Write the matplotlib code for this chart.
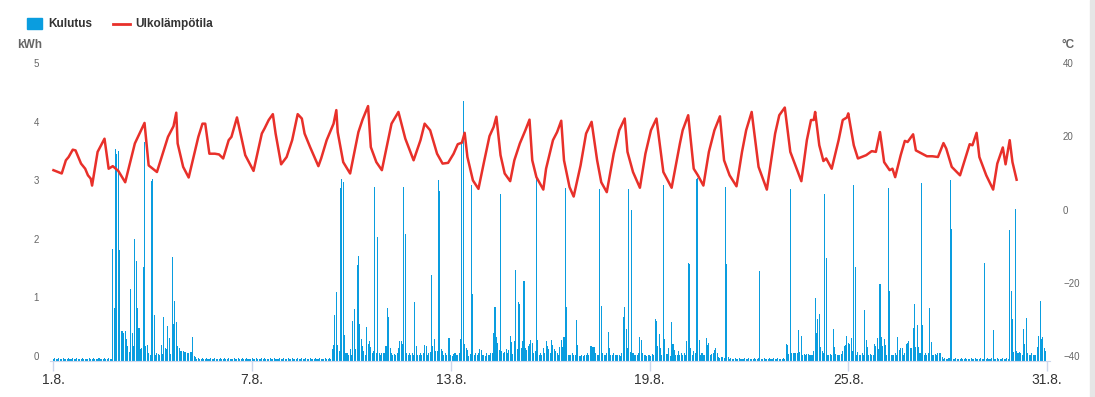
import matplotlib
matplotlib.use("Agg")
import matplotlib.pyplot as plt
from matplotlib.patches import Rectangle
from matplotlib.lines import Line2D
import numpy as np

plt.rcParams['font.family'] = ['Liberation Sans', 'DejaVu Sans']

# hourly consumption (kWh), one list per day, 1.8. - 30.8.
kulutus_paivittain = [
    [0.03, 0.05, 0.04, 0.03, 0.05, 0.03, 0.04, 0.05, 0.03, 0.04, 0.03, 0.05, 0.04, 0.03, 0.05, 0.04, 0.03, 0.05, 0.04, 0.03, 0.04, 0.05, 0.03, 0.04],
    [0.04, 0.03, 0.05, 0.04, 0.03, 0.05, 0.04, 0.03, 0.04, 0.05, 0.03, 0.04, 0.03, 0.05, 0.04, 0.03, 0.05, 0.04, 0.03, 1.91, 0.91, 3.61, 3.53, 3.58],
    [1.90, 0.51, 0.52, 0.48, 0.51, 0.37, 0.25, 0.15, 1.23, 0.48, 0.25, 2.08, 1.71, 0.91, 0.57, 0.20, 0.22, 1.60, 3.74, 0.26, 0.28, 0.14, 0.11, 3.07],
    [3.10, 0.79, 0.11, 0.14, 0.12, 0.11, 0.28, 0.12, 0.75, 0.23, 0.20, 0.60, 0.40, 0.12, 1.77, 0.63, 1.02, 0.66, 0.26, 0.23, 0.17, 0.17, 0.17, 0.15],
    [0.15, 0.14, 0.14, 0.16, 0.15, 0.41, 0.08, 0.06, 0.04, 0.05, 0.03, 0.04, 0.05, 0.03, 0.04, 0.05, 0.04, 0.03, 0.05, 0.04, 0.03, 0.05, 0.04, 0.03],
    [0.04, 0.05, 0.03, 0.04, 0.05, 0.04, 0.03, 0.05, 0.04, 0.03, 0.04, 0.05, 0.03, 0.04, 0.05, 0.03, 0.04, 0.05, 0.04, 0.03, 0.05, 0.04, 0.03, 0.04],
    [0.05, 0.03, 0.04, 0.05, 0.04, 0.03, 0.04, 0.05, 0.03, 0.05, 0.04, 0.03, 0.04, 0.05, 0.04, 0.03, 0.05, 0.04, 0.03, 0.04, 0.05, 0.03, 0.04, 0.05],
    [0.03, 0.04, 0.05, 0.04, 0.03, 0.05, 0.04, 0.03, 0.04, 0.05, 0.03, 0.04, 0.05, 0.04, 0.03, 0.05, 0.04, 0.03, 0.05, 0.04, 0.03, 0.04, 0.05, 0.04],
    [0.03, 0.05, 0.04, 0.03, 0.04, 0.05, 0.03, 0.04, 0.05, 0.04, 0.20, 0.27, 0.79, 1.18, 0.27, 0.17, 2.95, 3.11, 3.05, 0.45, 0.14, 0.14, 0.10, 0.20],
    [0.11, 0.68, 0.88, 0.20, 1.63, 1.80, 0.63, 0.37, 0.26, 0.17, 0.10, 0.58, 0.29, 0.34, 0.24, 0.14, 0.17, 2.97, 0.13, 2.12, 0.14, 0.11, 0.14, 0.14],
    [0.14, 0.26, 0.90, 0.75, 0.23, 0.14, 0.11, 0.12, 0.11, 0.14, 0.23, 0.34, 0.34, 0.29, 2.97, 2.17, 0.14, 0.11, 0.13, 0.11, 0.14, 0.11, 1.00, 0.26],
    [0.11, 0.10, 0.14, 0.11, 0.14, 0.27, 0.26, 0.11, 0.14, 0.16, 1.47, 0.26, 0.37, 0.17, 0.17, 3.09, 2.90, 0.20, 0.17, 0.11, 0.14, 0.11, 0.40, 0.39],
    [0.11, 0.09, 0.12, 0.14, 0.11, 0.11, 0.14, 0.37, 3.74, 4.43, 0.29, 0.23, 0.18, 0.09, 0.12, 3.00, 1.15, 0.11, 0.14, 0.11, 0.13, 0.20, 0.18, 0.11],
    [0.11, 0.09, 0.14, 0.11, 0.11, 0.14, 0.14, 0.47, 0.92, 0.41, 0.31, 0.18, 2.85, 0.17, 0.14, 0.16, 0.20, 0.14, 0.18, 0.43, 0.33, 0.12, 0.34, 1.55],
    [0.20, 1.00, 0.97, 0.23, 0.34, 1.37, 0.23, 0.18, 0.26, 0.29, 0.35, 0.31, 0.14, 0.17, 3.13, 0.35, 0.11, 0.14, 0.11, 0.23, 0.14, 0.34, 0.26, 0.20],
    [0.14, 0.35, 0.27, 0.20, 0.17, 0.14, 0.11, 0.24, 0.35, 0.24, 0.41, 2.96, 0.92, 0.11, 0.11, 0.11, 0.14, 0.10, 0.11, 0.70, 0.27, 0.09, 0.08, 0.11],
    [0.09, 0.11, 0.10, 0.14, 0.11, 0.26, 0.26, 0.24, 0.24, 0.14, 0.11, 0.11, 2.93, 0.94, 0.14, 0.11, 0.11, 0.14, 0.49, 0.23, 0.11, 0.11, 0.13, 0.11],
    [0.11, 0.11, 0.11, 0.09, 0.14, 0.75, 0.92, 0.54, 0.22, 2.94, 0.15, 2.57, 0.13, 0.11, 0.11, 0.11, 0.14, 0.41, 0.35, 0.14, 0.11, 0.11, 0.09, 0.11],
    [0.11, 0.09, 0.12, 0.11, 0.71, 0.69, 0.26, 0.46, 0.23, 0.11, 3.01, 0.37, 0.12, 0.12, 0.23, 0.09, 0.67, 0.29, 0.18, 0.11, 0.11, 0.17, 0.11, 0.14],
    [0.11, 0.14, 0.11, 0.34, 1.68, 1.66, 0.23, 0.11, 0.17, 0.14, 3.11, 3.13, 0.35, 0.11, 0.14, 0.11, 0.11, 0.40, 0.27, 0.31, 0.11, 0.12, 0.14, 0.18],
    [0.23, 0.14, 0.06, 0.05, 0.06, 0.06, 0.05, 2.97, 1.66, 0.06, 0.04, 0.05, 0.03, 0.04, 0.05, 0.04, 0.03, 0.05, 0.04, 0.03, 0.04, 0.05, 0.03, 0.04],
    [0.05, 0.04, 0.03, 0.04, 0.05, 0.03, 0.04, 0.05, 1.54, 0.04, 0.03, 0.05, 0.04, 0.03, 0.04, 0.05, 0.03, 0.04, 0.05, 0.04, 0.03, 0.05, 0.04, 0.03],
    [0.04, 0.05, 0.04, 0.29, 0.27, 0.12, 2.93, 0.14, 0.13, 0.13, 0.14, 0.13, 0.53, 0.16, 0.43, 0.11, 0.12, 0.11, 0.12, 0.12, 0.11, 0.11, 0.11, 0.17],
    [1.07, 0.47, 0.71, 0.81, 0.24, 0.17, 0.14, 2.85, 1.76, 0.11, 0.11, 0.12, 0.11, 0.54, 0.24, 0.12, 0.11, 0.10, 0.11, 0.12, 0.17, 0.26, 0.27, 0.43],
    [0.31, 0.29, 0.40, 0.17, 3.01, 1.61, 0.11, 0.16, 0.11, 0.11, 0.14, 0.11, 0.87, 0.35, 0.24, 0.11, 0.12, 0.11, 0.11, 0.29, 0.26, 0.40, 0.21, 1.31],
    [0.41, 0.26, 0.37, 0.27, 0.11, 2.96, 1.20, 0.11, 0.11, 0.11, 0.14, 0.11, 0.41, 0.18, 0.22, 0.23, 0.11, 0.14, 0.29, 0.31, 0.34, 0.23, 0.23, 0.56],
    [0.97, 0.24, 0.62, 0.24, 0.14, 3.04, 0.62, 0.11, 0.14, 0.11, 0.14, 0.91, 0.33, 0.11, 0.11, 0.12, 0.11, 0.14, 0.14, 0.14, 0.06, 0.04, 0.05, 0.03],
    [0.04, 0.05, 3.09, 2.25, 0.04, 0.03, 0.05, 0.04, 0.03, 0.04, 0.05, 0.03, 0.04, 0.05, 0.04, 0.03, 0.04, 0.05, 0.03, 0.04, 0.05, 0.04, 0.03, 0.04],
    [0.05, 0.04, 0.03, 1.67, 0.04, 0.05, 0.03, 0.04, 0.05, 0.53, 0.04, 0.03, 0.05, 0.04, 0.03, 0.04, 0.05, 0.04, 0.03, 0.05, 0.04, 2.23, 1.19, 0.71],
    [0.16, 2.59, 0.17, 0.14, 0.16, 0.14, 0.11, 0.54, 0.29, 0.73, 0.14, 0.11, 0.11, 0.14, 0.11, 0.11, 0.11, 0.24, 0.43, 1.03, 0.37, 0.41, 0.23, 0.17],
]

# outdoor temperature: hours from 1.8. 00:00 and degrees
lampo_tunnit = [
    0, 6, 9, 11, 14, 16, 18, 20, 23, 25, 27, 28, 32, 37, 40, 43, 47, 52, 59, 66, 69, 75, 83, 87, 89, 90, 94, 98,
    105, 108, 110, 113, 117, 120, 123, 127, 129, 133, 139, 145, 151, 153, 156, 159, 161, 165, 169, 173, 177, 180, 182, 186, 192, 194,
    198, 203, 205, 206, 210, 215, 221, 224, 228, 230, 234, 238, 241, 245, 250, 255, 261, 266, 269, 273, 278, 282, 286, 290,
    293, 296, 298, 300, 304, 308, 312, 316, 319, 321, 324, 327, 331, 334, 338, 342, 345, 347, 350, 355, 357, 362, 365, 368, 370, 374, 377, 382, 386, 390,
    394, 397, 401, 406, 410, 414, 416, 420, 425, 429, 433, 437, 442, 448, 454, 456, 460, 464, 467, 471, 475, 479, 483, 486,
    490, 495, 499, 502, 506, 511, 517, 523, 526, 530, 534, 542, 546, 549, 551, 552, 555, 558, 560, 564, 569, 572, 575, 576, 580, 583,
    589, 593, 596, 599, 602, 606, 608, 610, 614, 617, 619, 623, 625, 633, 637, 641, 645, 647, 651, 657, 660, 664, 666, 669, 671, 676, 681, 684, 688, 690, 693, 695, 698,
]
lampo = [
    12.1, 11.2, 14.8, 15.7, 17.7, 17.5, 15.7, 13.9, 12.5, 10.7, 9.8, 7.9, 17.1, 20.7, 12.5, 13.2, 11.9, 8.8, 19.4, 25.0, 13.4, 11.6, 21.2, 24.1, 27.8, 19.4, 13.0, 10.1,
    21.2, 24.8, 24.8, 16.6, 16.6, 16.4, 15.3, 20.3, 21.2, 26.5, 16.2, 11.9, 22.1, 23.5, 25.8, 27.4, 22.1, 13.7, 15.7, 20.3, 27.4, 26.2, 22.1, 18.4, 13.2, 15.3,
    20.3, 24.8, 28.5, 22.5, 14.3, 11.2, 22.5, 25.9, 29.6, 18.4, 14.3, 12.1, 17.5, 24.8, 28.0, 20.7, 14.8, 20.3, 24.8, 23.0, 16.6, 13.9, 14.1, 16.6,
    19.2, 19.6, 22.3, 15.7, 9.3, 7.0, 14.3, 21.4, 23.9, 26.7, 16.2, 11.2, 9.1, 14.8, 19.4, 23.0, 25.9, 14.8, 10.2, 6.8, 12.5, 20.3, 22.5, 25.6, 14.8, 7.5, 4.9, 13.4, 22.1, 25.3,
    14.8, 8.8, 6.1, 16.6, 23.0, 26.2, 17.1, 11.6, 7.3, 16.6, 23.0, 26.2, 11.6, 7.3, 19.4, 23.0, 27.1, 12.5, 10.7, 7.9, 17.1, 23.0, 26.8, 14.8,
    10.7, 7.7, 17.1, 23.0, 28.0, 13.0, 6.8, 22.1, 27.1, 29.2, 17.1, 9.1, 20.3, 25.8, 25.8, 28.0, 18.9, 14.6, 15.3, 12.5, 20.3, 25.8, 26.5, 27.6, 18.9, 15.3,
    16.2, 17.3, 17.1, 22.5, 14.3, 12.1, 12.5, 10.2, 16.2, 20.1, 19.8, 21.9, 17.5, 15.9, 15.9, 15.7, 19.5, 18.0, 13.0, 10.7, 14.3, 19.2, 18.9, 22.3, 15.7, 10.7, 6.8, 13.9, 18.3, 13.7, 20.3, 14.3, 9.5,
]

x_tikit = [0, 144, 288, 432, 576, 720]
x_nimet = ["1.8.", "7.8.", "13.8.", "19.8.", "25.8.", "31.8."]
kwh_tikit = [0, 1, 2, 3, 4, 5]
c_tikit = [-40, -20, 0, 20, 40]
c_nimet = ["\u221240", "\u221220", "0", "20", "40"]

sininen = '#0a9ddf'
punainen = '#e8302a'
harmaa = '#666666'

kulutus = [v for paiva in kulutus_paivittain for v in paiva]
tunnit = np.arange(len(kulutus))

W, H = 1095, 397
fig = plt.figure(figsize=(W / 100, H / 100), dpi=100)
ax = fig.add_axes([50 / W, (H - 361) / H, 1000 / W, (361 - 68) / H])

ax.bar(tunnit, kulutus, width=0.75, color=sininen, linewidth=0)
ax.set_xlim(-2.5, 722.2)
ax.set_ylim(0, 5)

ax2 = ax.twinx()
ax2.plot(lampo_tunnit, lampo, color=punainen, lw=1.8, solid_joinstyle='round')
ax2.set_ylim(-40, 40)

for a in (ax, ax2):
    for s in a.spines.values():
        s.set_visible(False)
    a.set_yticks([])
ax.spines['bottom'].set_visible(True)
ax.spines['bottom'].set_color('#ccd6eb')

ax.set_xticks(x_tikit)
ax.set_xticklabels(x_nimet, fontsize=10, color='#333333')
ax.tick_params(axis='x', length=7.5, width=1, color='#ccd6eb', pad=1.5)

# y tick labels sit a little above the tick positions
for v in kwh_tikit:
    ax.annotate(str(v), xy=(0, v), xycoords=('axes fraction', 'data'),
                xytext=(-11, 4), textcoords='offset pixels',
                ha='right', va='center', fontsize=7, color=harmaa)
for v, n in zip(c_tikit, c_nimet):
    ax2.annotate(n, xy=(1, v), xycoords=('axes fraction', 'data'),
                 xytext=(13, 4), textcoords='offset pixels',
                 ha='left', va='center', fontsize=7, color=harmaa)

fig.text(30 / W, 1 - 45 / H, 'kWh', ha='center', va='center',
         fontsize=8.5, fontweight='bold', color=harmaa)
fig.text(1068 / W, 1 - 45 / H, '\u00b0C', ha='center', va='center',
         fontsize=8.5, fontweight='bold', color=harmaa)

# legend
fig.patches.append(Rectangle((27 / W, 1 - 29 / H), 15 / W, 11 / H,
                             transform=fig.transFigure, color=sininen))
fig.text(48 / W, 1 - 24 / H, 'Kulutus', ha='left', va='center',
         fontsize=8.5, fontweight='bold', color='#333333')
fig.lines.append(Line2D([113 / W, 130 / W], [1 - 24 / H, 1 - 24 / H],
                        transform=fig.transFigure, color=punainen, lw=2))
fig.text(135 / W, 1 - 24 / H, 'Ulkolämpötila', ha='left', va='center',
         fontsize=8.5, fontweight='bold', color='#333333')

# scrollbar sliver on the right edge
fig.patches.append(Rectangle((1090 / W, 0), 5 / W, 1,
                             transform=fig.transFigure, color='#e6e6e6'))

fig.savefig('out.png', dpi=100)
